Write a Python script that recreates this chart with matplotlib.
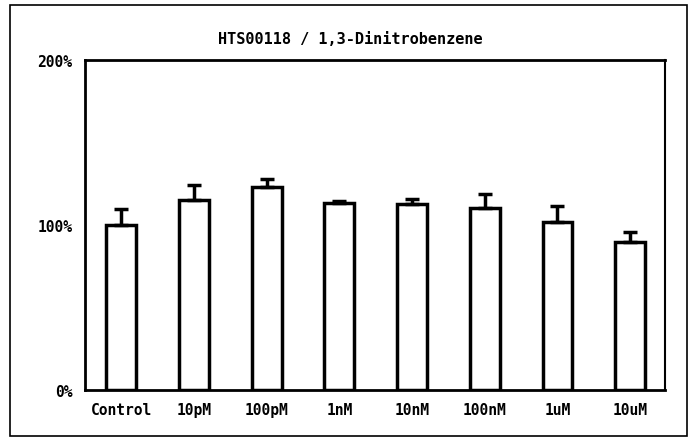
import numpy as np
import matplotlib.pyplot as plt
from matplotlib.patches import Rectangle

# data
labels = ["Control", "10pM", "100pM", "1nM", "10nM", "100nM", "1uM", "10uM"]
values = [100, 115, 123, 113.5, 112.5, 110.5, 102, 89.5]
errors = [10, 9.5, 5, 1, 3, 8, 9.5, 6.5]
title = "HTS00118 / 1,3-Dinitrobenzene"
yticks = [0, 100, 200]
yticklabels = ["0%", "100%", "200%"]

font = "DejaVu Sans Mono"

fig = plt.figure(figsize=(6.89, 4.39), dpi=100)
# axes box: x 85..665, y 61..391 (pixels)
ax = fig.add_axes([85 / 689, 1 - 391 / 439, 580 / 689, 330 / 439])

x = np.arange(len(labels))
ax.bar(x, values, width=0.41, color="white", edgecolor="black", linewidth=2.5, zorder=2)
ax.errorbar(x, values, yerr=[np.zeros(len(errors)), errors], fmt="none",
            ecolor="black", elinewidth=2.5, capsize=5, capthick=2.5, zorder=3)

ax.set_xlim(-0.5, 7.48)
ax.set_ylim(0, 200)
ax.set_yticks(yticks)
ax.set_yticklabels(yticklabels, fontfamily=font, fontsize=10.5, fontweight="bold")
ax.set_xticks(x)
ax.set_xticklabels(labels, fontfamily=font, fontsize=10.5, fontweight="bold")
ax.tick_params(axis="both", length=0)
ax.tick_params(axis="y", pad=9)
ax.tick_params(axis="x", pad=9)

for side in ["left", "bottom", "top"]:
    ax.spines[side].set_linewidth(2)
ax.spines["right"].set_linewidth(1.5)

fig.text(350 / 689, 1 - 40 / 439, title, ha="center", va="center",
         fontfamily=font, fontsize=11, fontweight="bold")

# outer frame round the whole chart
fig.patches.append(Rectangle((10 / 689, 1 - 437 / 439), 677 / 689, 431 / 439,
                             transform=fig.transFigure, fill=False,
                             edgecolor="black", linewidth=1.2))

fig.savefig("out.png", dpi=100)
